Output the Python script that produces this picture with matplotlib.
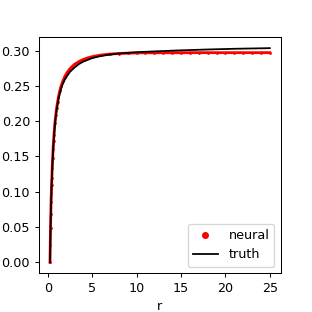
import matplotlib
matplotlib.use("Agg")
import matplotlib.pyplot as plt

# truth curve
r_truth = [0.25, 0.3, 0.35, 0.4, 0.45, 0.5, 0.6, 0.7, 0.8, 0.9, 1.0, 1.2, 1.4,
           1.6, 1.8, 2.0, 2.5, 3.0, 3.5, 4.0, 5.0, 6.0, 7.0, 8.0, 10.0, 12.0,
           15.0, 18.0, 21.0, 25.0]
y_truth = [0.0, 0.04, 0.07, 0.095, 0.115, 0.132, 0.158, 0.178, 0.194, 0.206,
           0.216, 0.231, 0.242, 0.250, 0.256, 0.261, 0.270, 0.276, 0.281,
           0.2845, 0.2895, 0.2925, 0.2945, 0.296, 0.2978, 0.299, 0.3005,
           0.3017, 0.3027, 0.3036]

# neural predictions
r_neural = [0.25, 0.28, 0.31, 0.34, 0.37, 0.4, 0.43, 0.46, 0.5, 0.55, 0.6, 0.65,
            0.7, 0.8, 0.9, 1.0, 1.1, 1.2, 1.35, 1.5, 1.7, 1.9, 2.1, 2.4, 2.7,
            3.0, 3.5, 4.0, 4.5, 5.0, 6.0, 7.0, 8.0, 9.0, 10.0, 11.0, 12.0, 13.0,
            14.0, 15.0, 16.0, 17.0, 18.0, 19.0, 20.0, 21.0, 22.0, 23.0, 24.0,
            25.0]
y_neural = [0.0, 0.025, 0.048, 0.068, 0.086, 0.098, 0.109, 0.12, 0.134, 0.148,
            0.161, 0.172, 0.181, 0.197, 0.209, 0.219, 0.227, 0.234, 0.243,
            0.25, 0.257, 0.263, 0.2675, 0.273, 0.277, 0.2805, 0.2845, 0.2875,
            0.2898, 0.2915, 0.2938, 0.2952, 0.296, 0.2965, 0.2968, 0.297,
            0.297, 0.2971, 0.2971, 0.2971, 0.2972, 0.2972, 0.2972, 0.2972,
            0.2972, 0.2972, 0.2972, 0.2972, 0.2972, 0.2972]

dpi = 92
fig, ax = plt.subplots(figsize=(312 / dpi, 312 / dpi), dpi=dpi)
fig.subplots_adjust(left=0.125, right=0.9, top=0.88, bottom=0.125)

ax.plot(r_neural, y_neural, "-", color="red", linewidth=2.2)
ax.plot(r_neural, y_neural, "o", color="red", markersize=2.2,
        markeredgewidth=0, label="neural")
ax.plot(r_truth, y_truth, "-", color="black", linewidth=1.4, label="truth")

ax.set_xlabel("r")
ax.set_xticks([0, 5, 10, 15, 20, 25])
ax.legend(loc="lower right", markerscale=2.5)

fig.savefig("out.png", dpi=dpi)
